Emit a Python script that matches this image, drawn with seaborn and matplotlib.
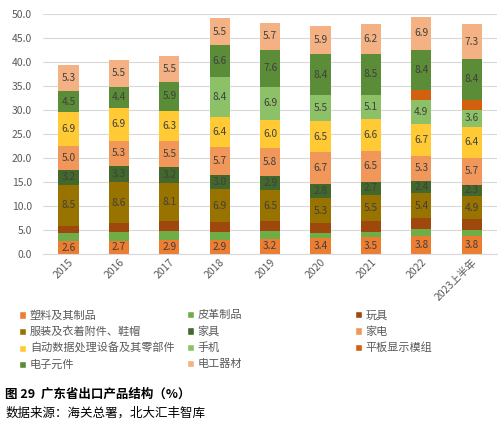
import matplotlib
matplotlib.use("Agg")
import matplotlib.pyplot as plt
import seaborn as sns
import numpy as np
import pandas as pd
from matplotlib.patches import Patch

sns.set_style("white")
plt.rcParams['font.family'] = ['Noto Sans CJK SC', 'DejaVu Sans']

years = ['2015', '2016', '2017', '2018', '2019', '2020', '2021', '2022', '2023上半年']
series_names = ['塑料及其制品', '皮革制品', '玩具', '服装及衣着附件、鞋帽', '家具', '家电',
                '自动数据处理设备及其零部件', '手机', '平板显示模组', '电子元件', '电工器材']
plastic = [2.6, 2.7, 2.9, 2.9, 3.2, 3.4, 3.5, 3.8, 3.8]
leather = [1.7, 1.8, 1.9, 1.7, 1.5, 1.0, 1.1, 1.4, 1.3]
toys = [1.6, 1.9, 2.0, 2.0, 2.1, 2.0, 2.2, 2.2, 2.1]
clothing = [8.5, 8.6, 8.1, 6.9, 6.5, 5.3, 5.5, 5.4, 4.9]
furniture = [3.2, 3.3, 3.2, 3.0, 2.9, 2.8, 2.7, 2.4, 2.3]
appliances = [5.0, 5.3, 5.5, 5.7, 5.8, 6.7, 6.5, 5.3, 5.7]
adp = [6.9, 6.9, 6.3, 6.4, 6.0, 6.5, 6.6, 6.7, 6.4]
phones = [0, 0, 0, 8.4, 6.9, 5.5, 5.1, 4.9, 3.6]
panel = [0, 0, 0, 0, 0, 0, 0, 2.1, 2.1]
electronic = [4.5, 4.4, 5.9, 6.6, 7.6, 8.4, 8.5, 8.4, 8.4]
electrical = [5.3, 5.5, 5.5, 5.5, 5.7, 5.9, 6.2, 6.9, 7.3]

values = [plastic, leather, toys, clothing, furniture, appliances, adp, phones, panel, electronic, electrical]
colors = ['#ED7D31', '#70AD47', '#9E480E', '#997300', '#43682B', '#F1975A',
          '#FFCA33', '#8CC168', '#D2610F', '#5B8C38', '#F4B183']
show_label = [True, False, False, True, True, True, True, True, False, True, True]

fig = plt.figure(figsize=(5.03, 4.29), dpi=100)
ax = fig.add_axes([0.086, 0.408, 0.902, 0.559])

bottom = np.zeros(len(years))
handles = []
for name, vals, col, lab in zip(series_names, values, colors, show_label):
    df = pd.DataFrame({'year': years, 'v': vals})
    sns.barplot(data=df, x='year', y='v', color=col, width=0.4, bottom=bottom,
                ax=ax, saturation=1, linewidth=0, errorbar=None)
    cont = ax.containers[-1]
    if lab:
        labels = [f'{v:.1f}' if v > 0 else '' for v in vals]
        ax.bar_label(cont, labels=labels, label_type='center', fontsize=7.3,
                     color='#404040')
    bottom = bottom + np.array(vals)
    handles.append(Patch(facecolor=col, label=name))

ax.set_ylim(0, 50)
ax.set_xlim(-0.5, len(years) - 0.5)
ax.set_yticks(np.arange(0, 50.1, 5))
ax.set_yticklabels([f'{t:.1f}' for t in np.arange(0, 50.1, 5)])
ax.yaxis.grid(True, color='#D9D9D9', linewidth=0.8)
ax.set_axisbelow(True)
for s in ['top', 'right', 'left']:
    ax.spines[s].set_visible(False)
ax.spines['bottom'].set_color('#D9D9D9')
ax.set_xlabel('')
ax.set_ylabel('')
ax.tick_params(axis='y', labelsize=7.5, colors='#595959', length=0, pad=8)
ax.tick_params(axis='x', labelsize=7.5, colors='#595959', length=0, pad=2)
plt.setp(ax.get_xticklabels(), rotation=45, ha='right', rotation_mode='anchor')

col_x = [0.037, 0.371, 0.705]
cols_idx = [[0, 3, 6, 9], [1, 4, 7, 10], [2, 5, 8]]
for cx, idxs in zip(col_x, cols_idx):
    leg = fig.legend(handles=[handles[i] for i in idxs], loc='upper left',
                     bbox_to_anchor=(cx, 0.277), frameon=False, ncol=1,
                     fontsize=8, handlelength=0.65, handleheight=0.65,
                     handletextpad=0.35, labelspacing=0.52, borderaxespad=0,
                     borderpad=0)
    for t in leg.get_texts():
        t.set_color('#595959')

fig.text(0.01, 0.081, '图 29  广东省出口产品结构（%）', fontsize=9, fontweight='bold',
         color='black', va='center')
fig.text(0.01, 0.038, '数据来源：海关总署，北大汇丰智库', fontsize=9, color='black', va='center')

fig.savefig('out.png', dpi=100)
